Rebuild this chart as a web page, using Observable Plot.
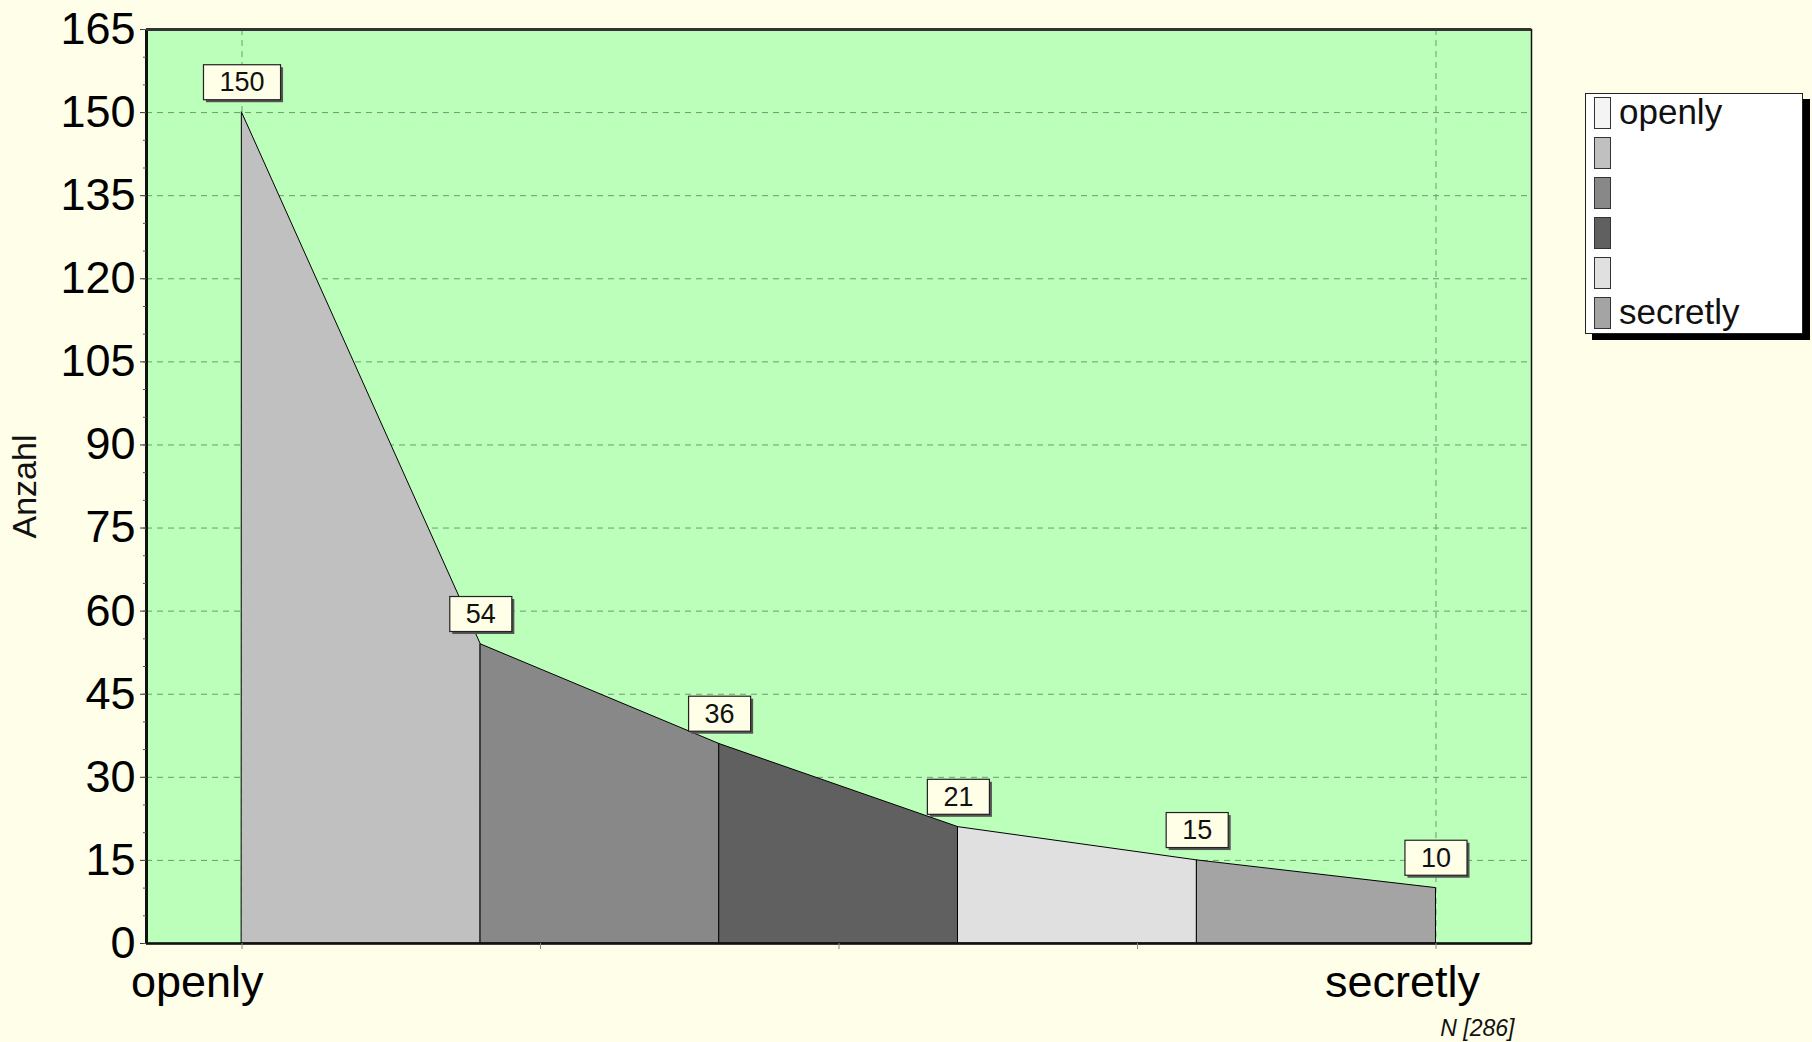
<!DOCTYPE html>
<html><head><meta charset="utf-8">
<script src="https://cdn.jsdelivr.net/npm/d3@7"></script>
<script src="https://cdn.jsdelivr.net/npm/@observablehq/plot@0.6"></script>
<style>
html,body{margin:0;padding:0;background:#fffee8;}
#wrap{position:relative;width:1812px;height:1042px;background:#fffee8;font-family:Arial,"Liberation Sans",sans-serif;overflow:hidden}
#chart{position:absolute;left:0;top:0}
#legend{position:absolute;left:1585px;top:93px;width:216px;height:239px;background:#fff;border:1px solid #222;box-shadow:7px 6px 0 #000;}
.row{position:absolute;left:8px;height:32px;display:flex;align-items:center;white-space:nowrap}
.sw{width:17px;height:32px;border:1px solid #333;box-sizing:border-box;margin-right:8px;flex:none}
.lt{font-size:35px;color:#111;line-height:32px;position:relative;top:-1px}
</style>
</head><body>
<div id="wrap"><div id="chart"></div><div id="legend"></div></div>
<script>
// ---- data ----
const categories = ["openly", "secretly"];
const categoryPositions = [0, 5];
const positions = [0, 1, 2, 3, 4, 5];
const values = [150, 54, 36, 21, 15, 10];
const segmentColors = ["#c0c0c0", "#888888", "#606060", "#e0e0e0", "#a4a4a4"];
const legendColors = ["#f4f4f4", "#c0c0c0", "#888888", "#606060", "#e0e0e0", "#a4a4a4"];
const legendLabels = ["openly", "", "", "", "", "secretly"];
const yTicks = d3.range(0, 166, 15);
const yMinorTicks = d3.range(0, 166, 5);
const yGridTicks = d3.range(15, 151, 15);
const xMinorTicks = [0, 1.25, 2.5, 3.75, 5];
const yLabel = "Anzahl";
const nText = "N [286]";

// ---- derived tables ----
const rows = [];
for (let i = 0; i < values.length - 1; i++) {
  rows.push({seg: i, x: positions[i], y: values[i], fill: segmentColors[i]});
  rows.push({seg: i, x: positions[i + 1], y: values[i + 1], fill: segmentColors[i]});
}
const points = positions.map((p, i) => ({x: p, y: values[i]}));

const font = "Arial, 'Liberation Sans', sans-serif";
const plot = Plot.plot({
  width: 1812, height: 1042,
  marginLeft: 146, marginRight: 281, marginTop: 29, marginBottom: 99,
  style: {background: "transparent", fontFamily: font, color: "#000", overflow: "visible"},
  x: {type: "linear", domain: [-0.4, 5.4]},
  y: {type: "linear", domain: [0, 165]},
  color: {type: "identity"},
  marks: [
    Plot.frame({fill: "#bbffbb", stroke: null}),
    Plot.gridY({ticks: yGridTicks, stroke: "#6f9a6f", strokeOpacity: 1, strokeDasharray: "6,5", strokeWidth: 1}),
    Plot.gridX({ticks: categoryPositions, stroke: "#6f9a6f", strokeOpacity: 1, strokeDasharray: "6,5", strokeWidth: 1}),
    Plot.areaY(rows, {x: "x", y1: 0, y2: "y", z: "seg", fill: "fill", stroke: "#000", strokeWidth: 1}),
    Plot.frame({stroke: "#111", strokeWidth: 1.5}),
    Plot.ruleX([-0.4], {stroke: "#111", strokeWidth: 3}),
    Plot.ruleY([0], {stroke: "#111", strokeWidth: 2.5}),
    Plot.ruleY([165], {stroke: "#333", strokeWidth: 3}),
    Plot.axisY({ticks: yTicks, tickSize: 6, tickPadding: 5, fontSize: 45, label: null, tickFormat: d => String(d), stroke: "#333"}),
    Plot.axisY({ticks: yMinorTicks, tickSize: 3, tickFormat: () => "", label: null, stroke: "#555"}),
    Plot.axisX({ticks: xMinorTicks, tickSize: 6, tickFormat: () => "", label: null, stroke: "#888"}),
    Plot.axisX({ticks: categoryPositions, tickSize: 0, tickPadding: 22, fontSize: 45, dx: -111, textAnchor: "start", label: null,
      tickFormat: d => categories[categoryPositions.indexOf(d)]}),
    Plot.text(points, {x: "x", y: "y", text: d => String(d.y), dy: -30, fontSize: 27, lineAnchor: "middle", fill: "#111"}),
    Plot.text([yLabel], {text: d => d, frameAnchor: "left", dx: -121, rotate: -90, fontSize: 34, textAnchor: "middle", fill: "#111"}),
    Plot.text([nText], {text: d => d, frameAnchor: "bottom-right", dx: -17, dy: 85, fontSize: 23, fontStyle: "italic", textAnchor: "end", lineAnchor: "middle", fill: "#111"})
  ]
});
document.getElementById("chart").appendChild(plot);

// boxes behind value labels, sized from the rendered text
const valueStrings = values.map(String);
const svgNS = "http://www.w3.org/2000/svg";
plot.querySelectorAll("g").forEach(g => {
  const texts = Array.from(g.children).filter(c => c.tagName === "text");
  if (texts.length !== values.length) return;
  if (!texts.every((t, i) => t.textContent === valueStrings[i])) return;
  texts.forEach(t => {
    const bb = t.getBBox();
    const padX = 16, padY = 2.5;
    const tr = t.getAttribute("transform");
    const sh = document.createElementNS(svgNS, "rect");
    sh.setAttribute("x", bb.x - padX + 2.5); sh.setAttribute("y", bb.y - padY + 2.5);
    sh.setAttribute("width", bb.width + 2 * padX); sh.setAttribute("height", bb.height + 2 * padY);
    sh.setAttribute("fill", "#555");
    const r = document.createElementNS(svgNS, "rect");
    r.setAttribute("x", bb.x - padX); r.setAttribute("y", bb.y - padY);
    r.setAttribute("width", bb.width + 2 * padX); r.setAttribute("height", bb.height + 2 * padY);
    r.setAttribute("fill", "#fffee6"); r.setAttribute("stroke", "#222"); r.setAttribute("stroke-width", "1.2");
    if (tr) { sh.setAttribute("transform", tr); r.setAttribute("transform", tr); }
    g.insertBefore(sh, t); g.insertBefore(r, t);
  });
});

// legend
const legend = document.getElementById("legend");
legendColors.forEach((c, i) => {
  const row = document.createElement("div");
  row.className = "row";
  row.style.top = (3 + 40 * i) + "px";
  const sw = document.createElement("div");
  sw.className = "sw"; sw.style.background = c;
  const lt = document.createElement("span");
  lt.className = "lt"; lt.textContent = legendLabels[i];
  row.appendChild(sw); row.appendChild(lt);
  legend.appendChild(row);
});
</script>
</body></html>
